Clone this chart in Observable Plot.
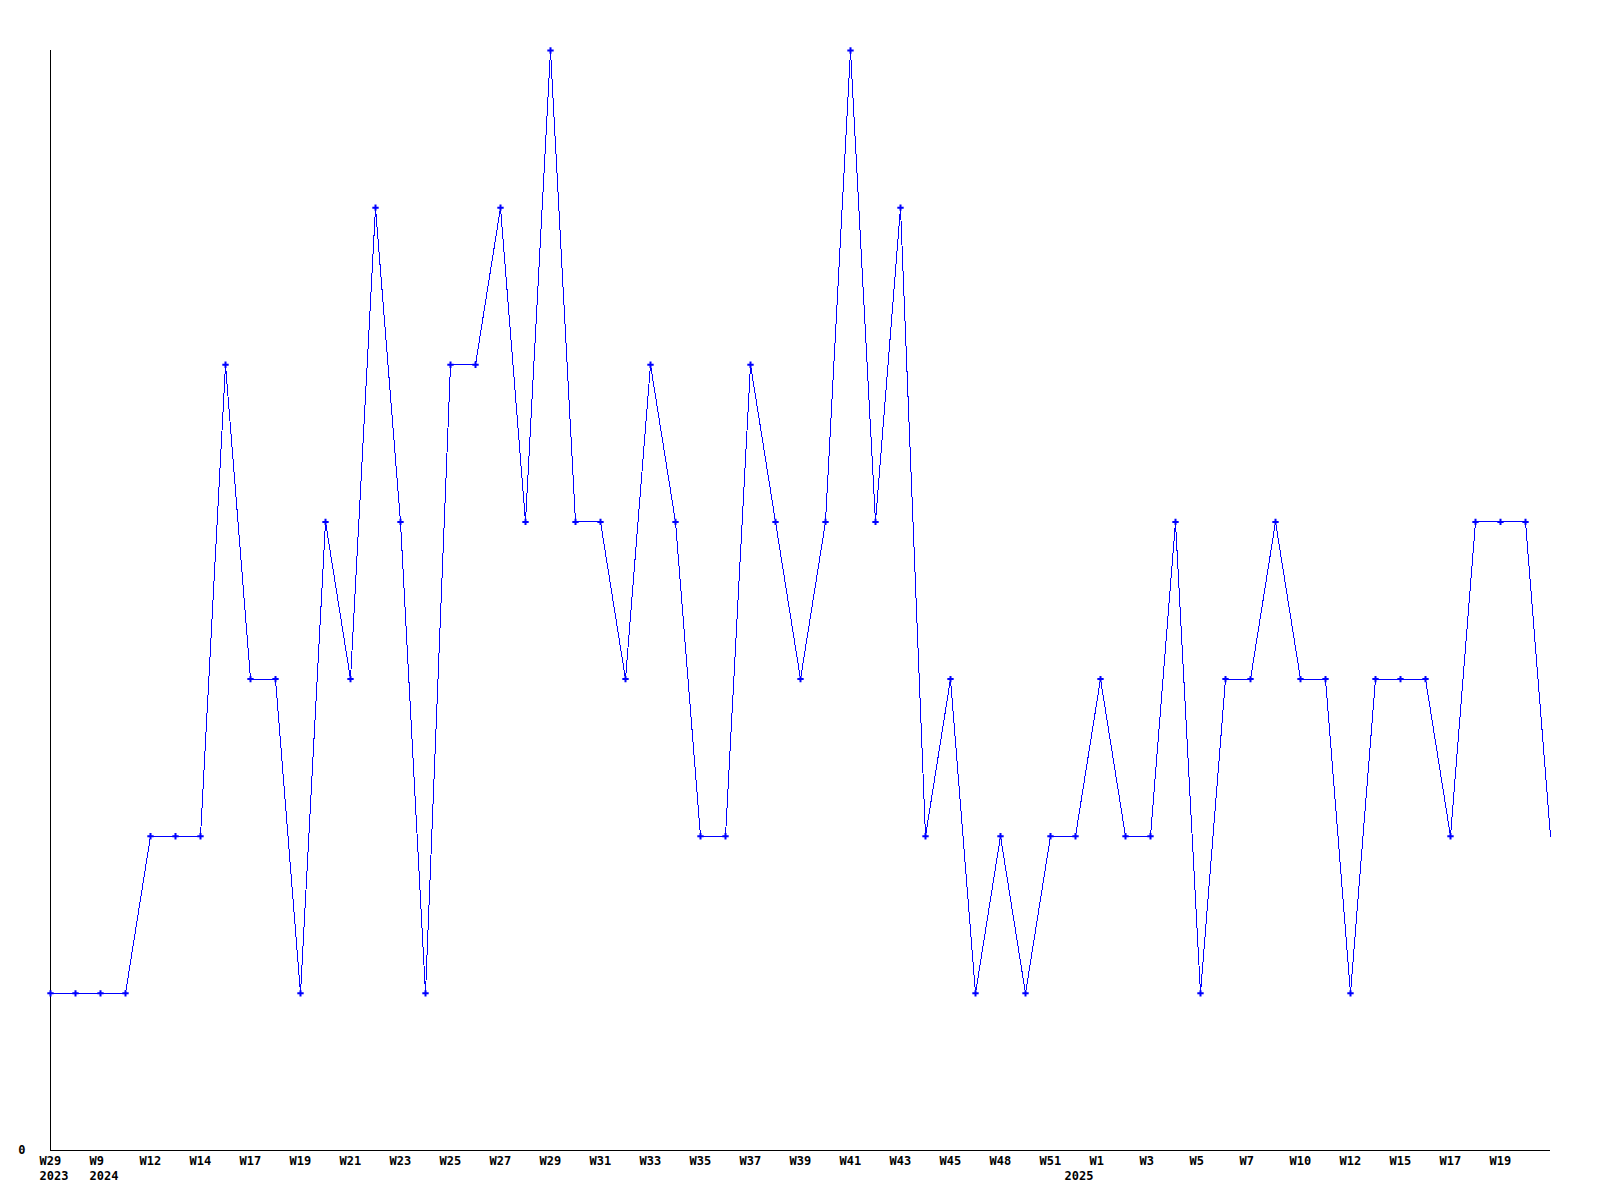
<!DOCTYPE html>
<html>
<head>
<meta charset="utf-8">
<script src="https://cdn.jsdelivr.net/npm/d3@7"></script>
<script src="https://cdn.jsdelivr.net/npm/@observablehq/plot@0.6"></script>
<style>
  html, body { margin: 0; padding: 0; background: #fff; }
  #chart svg { display: block; }
  .ln path, .ax line { shape-rendering: crispEdges; }
</style>
</head>
<body>
<div id="chart"></div>
<script>
// Weekly categories (year-week), in plotted order
const weeks = [
  "2023-W29","2023-W30","2024-W9","2024-W10","2024-W12","2024-W13","2024-W14","2024-W16","2024-W17","2024-W18",
  "2024-W19","2024-W20","2024-W21","2024-W22","2024-W23","2024-W24","2024-W25","2024-W26","2024-W27","2024-W28",
  "2024-W29","2024-W30","2024-W31","2024-W32","2024-W33","2024-W34","2024-W35","2024-W36","2024-W37","2024-W38",
  "2024-W39","2024-W40","2024-W41","2024-W42","2024-W43","2024-W44","2024-W45","2024-W47","2024-W48","2024-W50",
  "2024-W51","2024-W52","2025-W1","2025-W2","2025-W3","2025-W4","2025-W5","2025-W6","2025-W7","2025-W9",
  "2025-W10","2025-W11","2025-W12","2025-W14","2025-W15","2025-W16","2025-W17","2025-W18","2025-W19","2025-W20",
  "2025-W21"
];
// Series values
const counts = [
  1,1,1,1,2,2,2,5,3,3,
  1,4,3,6,4,1,5,5,6,4,
  7,4,4,3,5,4,2,2,5,4,
  3,4,7,4,6,2,3,1,2,1,
  2,2,3,2,2,4,1,3,3,4,
  3,3,1,3,3,3,2,4,4,4,
  2
];
// Tick labels: every other week gets its week label
const weekTickLabels = weeks.map((w, i) => (i % 2 === 0 && i < weeks.length - 1) ? w.split("-")[1] : null);
// Year labels and the week they sit under
const yearLabels = [
  { week: "2023-W29", year: "2023" },
  { week: "2024-W9",  year: "2024" },
  { week: "2024-W52", year: "2025" }
];
const yTicks = [0];

const data = weeks.map((w, i) => ({ i, week: w, value: counts[i] }));
const markerData = data.slice(0, data.length - 1);
const tickData = data.filter(d => weekTickLabels[d.i] !== null).map(d => ({ i: d.i, label: weekTickLabels[d.i] }));
const yearData = yearLabels.map(d => ({ i: weeks.indexOf(d.week), label: d.year }));

const font = "DejaVu Sans Mono, monospace";

const chart = Plot.plot({
  width: 1600,
  height: 1200,
  marginLeft: 50,
  marginRight: 50,
  marginTop: 50,
  marginBottom: 50,
  style: { fontFamily: font, fontSize: "12px", fontWeight: "bold", background: "#fff", color: "#000" },
  x: { type: "linear", domain: [0, weeks.length - 1], axis: null },
  y: { domain: [0, 7], axis: null, label: null },
  marks: [
    Plot.ruleX([0], { stroke: "#000", strokeWidth: 1, className: "ax" }),
    Plot.ruleY([0], { stroke: "#000", strokeWidth: 1, className: "ax" }),
    Plot.axisY({ ticks: yTicks, tickSize: 0, tickPadding: 25, label: null, tickFormat: d => String(d), fontFamily: font, fontWeight: "bold" }),
    Plot.line(data, { x: "i", y: "value", stroke: "#0000ff", strokeWidth: 1, className: "ln" }),
    Plot.dot(markerData, { x: "i", y: "value", symbol: "plus", r: 2.2, stroke: "#0000ff", strokeWidth: 2 }),
    Plot.text(tickData, { x: "i", text: "label", frameAnchor: "bottom", dy: 14, dx: -11, textAnchor: "start", fill: "#000", fontFamily: font, fontWeight: "bold", fontSize: 12 }),
    Plot.text(yearData, { x: "i", text: "label", frameAnchor: "bottom", dy: 29, dx: -11, textAnchor: "start", fill: "#000", fontFamily: font, fontWeight: "bold", fontSize: 12 })
  ]
});
document.getElementById("chart").appendChild(chart);
</script>
</body>
</html>
